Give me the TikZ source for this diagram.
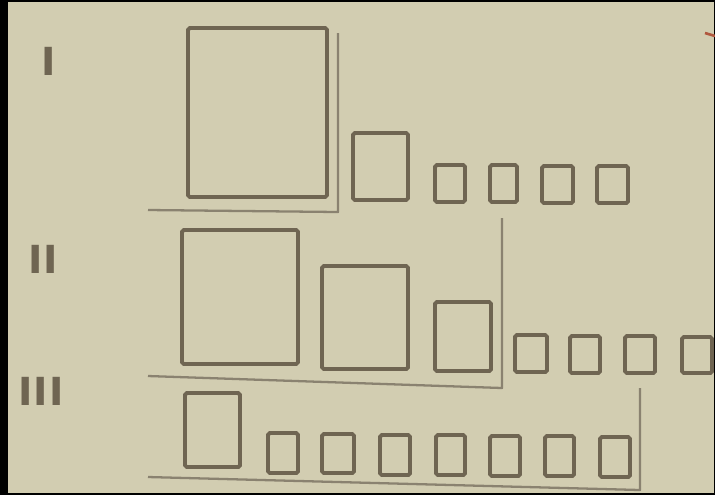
\documentclass[tikz,border=0pt]{standalone}
\usepackage{fontspec}
\usepackage{tikz}
\newfontfamily\handfont[LetterSpace=3]{DejaVu Sans Bold}
\definecolor{paper}{HTML}{D2CDB1}
\definecolor{ink}{HTML}{6F6552}
\definecolor{pencil}{HTML}{8A8270}
\definecolor{redmark}{HTML}{B0583F}
\tikzset{
  sq/.style={draw=ink,line width=2.2pt,inner sep=0pt,outer sep=0pt,rounded corners=1pt},
  brk/.style={draw=pencil,line width=1.3pt,line join=round},
  num/.style={font=\fontsize{22}{22}\selectfont\handfont,text=ink,inner sep=0pt},
}
\begin{document}
\begin{tikzpicture}[x=0.02cm,y=-0.02cm]
\useasboundingbox (0,0) rectangle (715,495);
\fill[black] (0,0) rectangle (715,495);
\fill[paper] (8,2) rectangle (714,493);
% row labels
\node[num] (lI) at (49,61) {I};
\node[num] (lII) at (43,259) {II};
\node[num] (lIII) at (41,391) {III};
% row I
\foreach \n/\xa/\ya/\xb/\yb in {1/188/28/327/197,2/353/133/408/200,3/435/165/465/202,4/490/165/517/202,5/542/166/573/203,6/597/166/628/203}
  \node[sq,minimum width={(\xb-\xa)*0.02cm},minimum height={(\yb-\ya)*0.02cm}] (a\n) at ({(\xa+\xb)/2},{(\ya+\yb)/2}) {};
% row II
\foreach \n/\xa/\ya/\xb/\yb in {1/182/230/298/364,2/322/266/408/369,3/435/302/491/371,4/515/335/547/372,5/570/336/600/373,6/625/336/655/373,7/682/337/712/373}
  \node[sq,minimum width={(\xb-\xa)*0.02cm},minimum height={(\yb-\ya)*0.02cm}] (b\n) at ({(\xa+\xb)/2},{(\ya+\yb)/2}) {};
% row III
\foreach \n/\xa/\ya/\xb/\yb in {1/185/393/240/467,2/268/433/298/473,3/322/434/354/473,4/380/435/410/475,5/436/435/465/475,6/490/436/520/476,7/545/436/574/476,8/600/437/630/477}
  \node[sq,minimum width={(\xb-\xa)*0.02cm},minimum height={(\yb-\ya)*0.02cm}] (c\n) at ({(\xa+\xb)/2},{(\ya+\yb)/2}) {};
% brackets
\draw[brk] (148,210)--(338,212)--(338,33);
\draw[brk] (148,376)--(502,388)--(502,218);
\draw[brk] (148,477)--(640,490)--(640,388);
\draw[redmark,line width=1.5pt] (705,33)--(715,36);
\end{tikzpicture}
\end{document}
